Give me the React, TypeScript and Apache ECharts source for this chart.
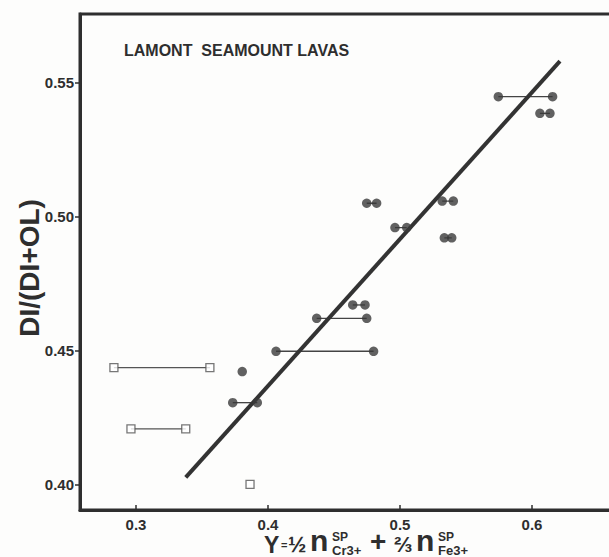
import React, { useEffect, useRef } from "react";
import * as echarts from "echarts";

// Filled circles (Lamont seamount lavas): y value, left x, right x (null = single point)
const dotY = [0.5448, 0.5386, 0.505, 0.4959, 0.5058, 0.4921, 0.467, 0.462, 0.4497, 0.4421, 0.4305];
const dotXLow = [0.5745, 0.606, 0.4748, 0.4962, 0.532, 0.5336, 0.4642, 0.4369, 0.4061, 0.3805, 0.3733];
const dotXHigh = [0.6156, 0.6136, 0.4823, 0.5051, 0.5404, 0.5392, 0.4735, 0.4748, 0.48, null, 0.3919];

// Open squares
const sqY = [0.4436, 0.4207, 0.4];
const sqXLow = [0.2833, 0.2962, 0.3864];
const sqXHigh = [0.356, 0.3377, null];

// Regression line end points
const fitX = [0.3377, 0.6212];
const fitY = [0.4026, 0.5581];

const xTicks = [0.3, 0.4, 0.5, 0.6];
const yTicks = [0.4, 0.45, 0.5, 0.55];

const title = "LAMONT  SEAMOUNT LAVAS";
const yName = "DI/(DI+OL)";

const INK = "#2e2e2e";
const FONT = "'Liberation Sans', Arial, Helvetica, sans-serif";

export default function App() {
  const ref = useRef<HTMLDivElement>(null);
  useEffect(() => {
    if (!ref.current) return;
    const chart = echarts.init(ref.current, undefined, { renderer: "svg" });

    const pairSeries: any[] = [];
    dotY.forEach((y, i) => {
      const hi = dotXHigh[i];
      if (hi != null) {
        pairSeries.push({
          type: "line",
          data: [[dotXLow[i], y], [hi, y]],
          symbol: "none",
          lineStyle: { color: "#444", width: 1.3 },
          z: 2,
        });
      }
    });
    sqY.forEach((y, i) => {
      const hi = sqXHigh[i];
      if (hi != null) {
        pairSeries.push({
          type: "line",
          data: [[sqXLow[i], y], [hi, y]],
          symbol: "none",
          lineStyle: { color: "#555", width: 1.2 },
          z: 2,
        });
      }
    });

    const dots: number[][] = [];
    dotY.forEach((y, i) => {
      dots.push([dotXLow[i], y]);
      const hi = dotXHigh[i];
      if (hi != null) dots.push([hi, y]);
    });
    const squares: number[][] = [];
    sqY.forEach((y, i) => {
      squares.push([sqXLow[i], y]);
      const hi = sqXHigh[i];
      if (hi != null) squares.push([hi, y]);
    });

    // text centred vertically at y
    const txt = (text: string, x: number, y: number, size: number) => ({
      type: "text",
      x,
      y,
      style: {
        text,
        font: `bold ${size}px ${FONT}`,
        fill: INK,
        textAlign: "left",
        textVerticalAlign: "middle",
        align: "left",
        verticalAlign: "middle",
      },
    });

    chart.setOption({
      animation: false,
      backgroundColor: "#fdfdfc",
      grid: {
        left: 80,
        top: 14,
        width: 544.4,
        height: 496,
        show: true,
        borderWidth: 3,
        borderColor: INK,
        backgroundColor: "transparent",
      },
      xAxis: {
        type: "value",
        min: 0.2576,
        max: 0.67,
        splitLine: { show: false },
        axisLine: { show: true, lineStyle: { color: INK, width: 3 } },
        axisTick: { show: true, inside: true, length: 5, customValues: xTicks, lineStyle: { color: INK, width: 1.5 } },
        axisLabel: {
          customValues: xTicks,
          formatter: (v: number) => v.toFixed(1),
          color: INK,
          fontFamily: FONT,
          fontWeight: "bold",
          fontSize: 15,
          margin: 7,
        },
      },
      yAxis: {
        type: "value",
        min: 0.3904,
        max: 0.5757,
        splitLine: { show: false },
        axisLine: { show: true, lineStyle: { color: INK, width: 3 } },
        axisTick: { show: true, inside: false, length: 5, customValues: yTicks, lineStyle: { color: INK, width: 1.5 } },
        axisLabel: {
          customValues: yTicks,
          formatter: (v: number) => v.toFixed(2),
          color: INK,
          fontFamily: FONT,
          fontWeight: "bold",
          fontSize: 15,
          margin: 6,
        },
      },
      graphic: [
        txt(title, 124, 50, 16),
        {
          type: "text",
          x: 29,
          y: 268,
          rotation: Math.PI / 2,
          style: {
            text: yName,
            font: `bold 28px ${FONT}`,
            fill: INK,
            textAlign: "center",
            textVerticalAlign: "middle",
            align: "center",
            verticalAlign: "middle",
          },
        },
        txt("Y", 264, 544.5, 23),
        txt("=", 281, 545, 11),
        txt("½", 288, 544.9, 22),
        txt("n", 310, 540.1, 30),
        txt("SP", 332, 536.5, 12),
        txt("Cr3+", 332, 550, 13),
        txt("+", 370, 541.3, 28),
        txt("⅔", 394, 544.5, 22),
        txt("n", 416, 540.1, 30),
        txt("SP", 438, 536.5, 12),
        txt("Fe3+", 438, 550, 13),
      ],
      series: [
        {
          type: "line",
          data: [[fitX[0], fitY[0]], [fitX[1], fitY[1]]],
          symbol: "none",
          lineStyle: { color: "#333", width: 4 },
          z: 3,
        },
        ...pairSeries,
        {
          type: "scatter",
          data: dots,
          symbol: "circle",
          symbolSize: 9.5,
          itemStyle: { color: "#3a3a3a" },
          z: 4,
        },
        {
          type: "scatter",
          data: squares,
          symbol: "rect",
          symbolSize: 8,
          itemStyle: { color: "#ffffff", borderColor: "#555", borderWidth: 1.3 },
          z: 4,
        },
      ],
    });
    return () => chart.dispose();
  }, []);

  return (
    <div style={{ position: "fixed", left: 0, top: 0, width: 609, height: 557, overflow: "hidden", background: "#fdfdfc" }}>
      <div ref={ref} style={{ width: 640, height: 557 }} />
    </div>
  );
}
